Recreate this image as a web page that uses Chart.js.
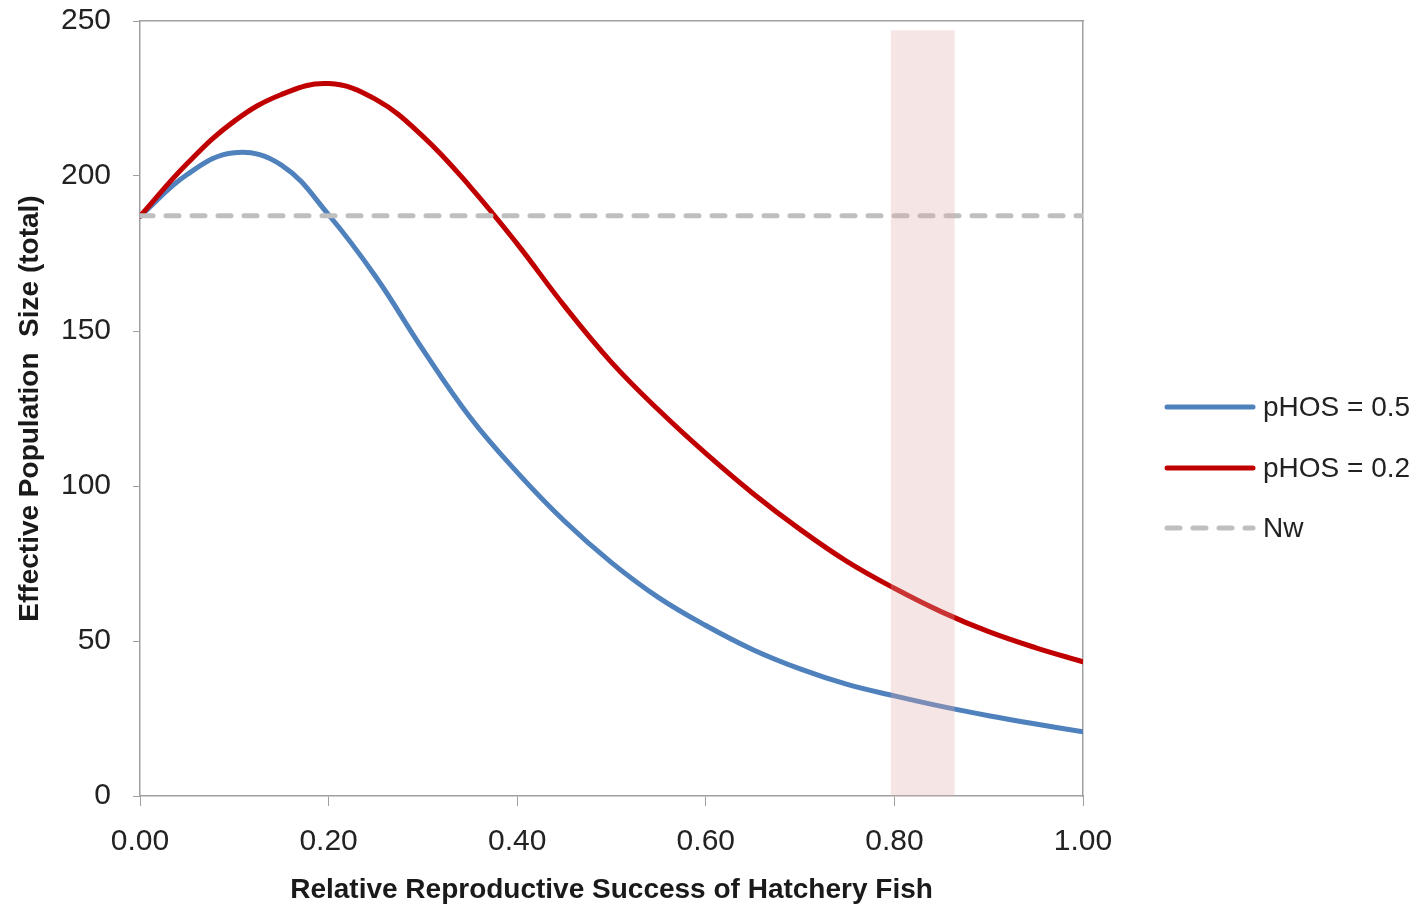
<!DOCTYPE html>
<html>
<head>
<meta charset="utf-8">
<script src="https://cdn.jsdelivr.net/npm/chart.js@4/dist/chart.umd.min.js"></script>
<style>
  html, body { margin: 0; padding: 0; background: #fff; }
  #wrap { width: 1423px; height: 908px; position: relative; }
  #legend { position: absolute; left: 1163px; top: 386px; font-family: 'Liberation Sans', Arial, sans-serif;
            font-size: 28px; color: #222; }
  #legend .item { display: flex; align-items: center; height: 42px; margin-bottom: 18.5px; white-space: nowrap; }
  #legend svg { margin-right: 4px; }
</style>
</head>
<body>
<div id="wrap"><canvas id="chart"></canvas><div id="legend"></div></div>
<script>
// relative reproductive success (x)
const rrs = [0, 0.05, 0.10, 0.15, 0.20, 0.25, 0.30, 0.35, 0.40, 0.45, 0.50,
             0.55, 0.60, 0.65, 0.70, 0.75, 0.80, 0.85, 0.90, 0.95, 1.00];
// effective population size
const pHOS05 = [187, 200.5, 207.5, 203.5, 187.5, 167.5, 144, 122.2, 104.4, 88.7, 75.3,
                64, 55, 47.2, 41, 36, 32.3, 28.9, 25.9, 23.2, 20.7];
const pHOS02 = [187, 204, 217.7, 226.3, 229.8, 224.7, 212.8, 196.6, 178.1, 158.1, 139.9,
                124.5, 110.5, 97.6, 86, 75.6, 67, 59.4, 53, 47.8, 43.3];
const nwX = [0, 1];
const nwLevel = [187.2, 187.2];
// shaded range of RRS
const bandX = [0.796, 0.864];
const bandTop = [247, 247];

const xTicks = [0, 0.2, 0.4, 0.6, 0.8, 1.0];
const yTicks = [0, 50, 100, 150, 200, 250];

const pts = (xs, ys) => xs.map((x, i) => ({ x: x, y: ys[i] }));

Chart.defaults.font.family = "'Liberation Sans', Arial, sans-serif";
Chart.defaults.color = '#222';

const gray = '#a0a0a0';

const datasets = [
  {
    label: 'band',
    data: pts(bandX, bandTop),
    fill: 'origin',
    backgroundColor: 'rgba(226,170,170,0.3)',
    borderWidth: 0,
    pointRadius: 0,
    order: 0
  },
  {
    label: 'pHOS = 0.5',
    data: pts(rrs, pHOS05),
    borderColor: '#4f81bd',
    borderWidth: 5,
    borderCapStyle: 'round',
    pointRadius: 0,
    tension: 0.4,
    order: 3
  },
  {
    label: 'pHOS = 0.2',
    data: pts(rrs, pHOS02),
    borderColor: '#c00000',
    borderWidth: 5,
    borderCapStyle: 'round',
    pointRadius: 0,
    tension: 0.4,
    order: 2
  },
  {
    label: 'Nw',
    data: pts(nwX, nwLevel),
    borderColor: '#bfbfbf',
    borderWidth: 5,
    borderDash: [13, 13],
    borderCapStyle: 'round',
    pointRadius: 0,
    order: 1
  }
];

new Chart(document.getElementById('chart'), {
  type: 'line',
  data: { datasets: datasets },
  options: {
    responsive: true,
    maintainAspectRatio: false,
    animation: false,
    layout: { padding: { top: 21, left: 0, right: 340, bottom: 0 } },
    scales: {
      x: {
        type: 'linear',
        min: 0,
        max: 1,
        afterBuildTicks: axis => { axis.ticks = xTicks.map(v => ({ value: v })); },
        afterFit: axis => { axis.height = 112; },
        ticks: {
          callback: v => Number(v).toFixed(2),
          font: { size: 30 },
          color: '#222',
          padding: 18,
          maxRotation: 0
        },
        grid: { drawOnChartArea: false, drawTicks: true, tickLength: 10, color: gray },
        border: { color: gray, width: 1.5 },
        title: {
          display: true,
          text: 'Relative Reproductive Success of Hatchery Fish',
          font: { size: 28, weight: 'bold' },
          color: '#1a1a1a',
          padding: { top: 0, bottom: 1 }
        }
      },
      xTop: {
        type: 'linear',
        position: 'top',
        min: 0,
        max: 1,
        afterFit: axis => { axis.height = 0; },
        ticks: { display: false },
        grid: { display: false },
        border: { display: true, color: gray, width: 1.5 }
      },
      y: {
        min: 0,
        max: 250,
        afterBuildTicks: axis => { axis.ticks = yTicks.map(v => ({ value: v })); },
        afterFit: axis => {
          axis.width = 140;
          axis.paddingTop = 18;
          axis.paddingBottom = 18;
        },
        ticks: { font: { size: 30 }, color: '#222', padding: 22 },
        grid: { drawOnChartArea: false, drawTicks: true, tickLength: 7, color: gray },
        border: { color: gray, width: 1.5 },
        title: {
          display: true,
          text: 'Effective Population  Size (total)',
          font: { size: 28, weight: 'bold' },
          color: '#1a1a1a',
          padding: { top: 13, bottom: 0 }
        }
      },
      yRight: {
        position: 'right',
        min: 0,
        max: 250,
        afterFit: axis => { axis.width = 0; },
        ticks: { display: false },
        grid: { display: false },
        border: { display: true, color: gray, width: 1.5 }
      }
    },
    plugins: {
      tooltip: { enabled: false },
      legend: { display: false }
    }
  }
});

// legend built from the dataset styles
const legendEl = document.getElementById('legend');
datasets.filter(d => d.label !== 'band').forEach(d => {
  const item = document.createElement('div');
  item.className = 'item';
  const dash = d.borderDash ? ` stroke-dasharray="${d.borderDash.join(' ')}"` : '';
  item.innerHTML =
    `<svg width="96" height="12"><line x1="4" y1="6" x2="90" y2="6" stroke="${d.borderColor}"` +
    ` stroke-width="${d.borderWidth}" stroke-linecap="round"${dash}/></svg><span>${d.label}</span>`;
  legendEl.appendChild(item);
});
</script>
</body>
</html>
